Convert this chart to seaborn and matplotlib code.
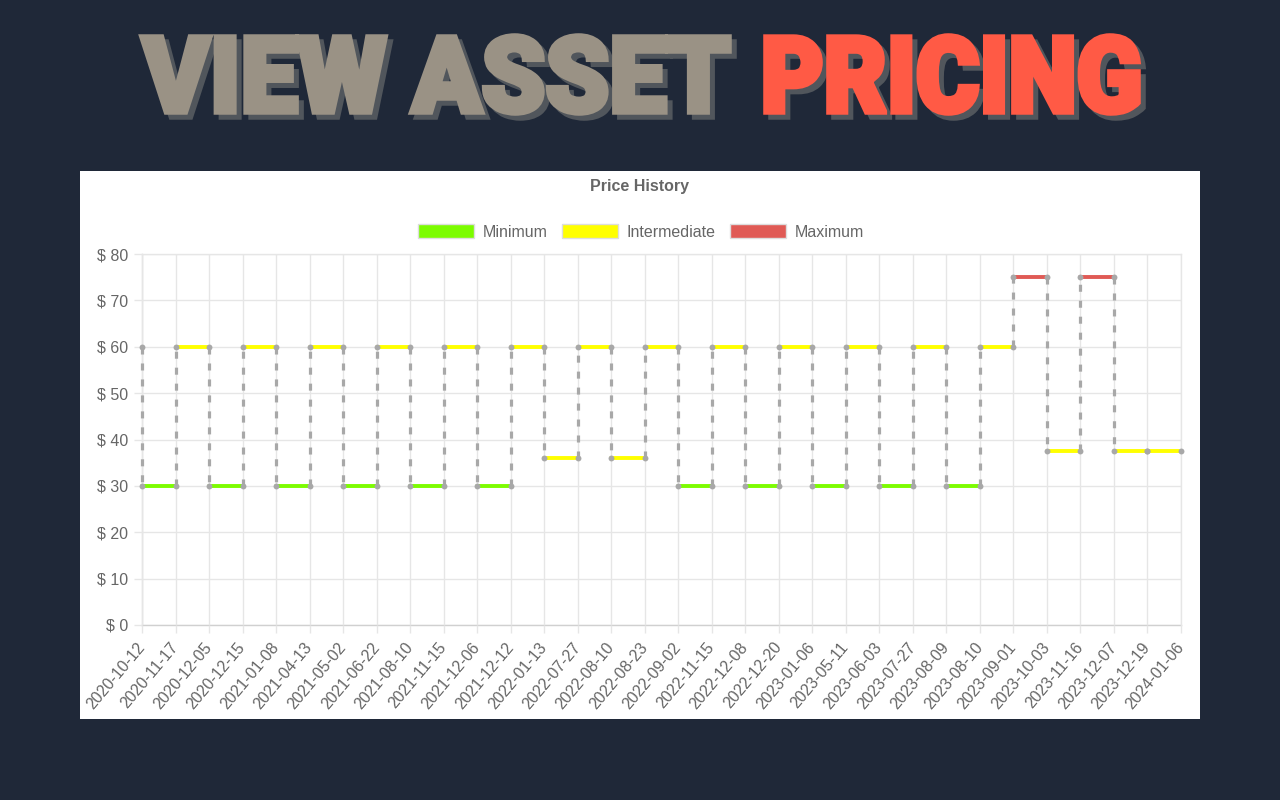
import matplotlib
matplotlib.use('Agg')
import matplotlib.pyplot as plt
import seaborn as sns
import pandas as pd
from matplotlib.textpath import TextPath
from matplotlib.patches import PathPatch, Patch, Rectangle
from matplotlib.font_manager import FontProperties
from matplotlib.transforms import Affine2D


dates = ['2020-10-12', '2020-11-17', '2020-12-05', '2020-12-15', '2021-01-08',
         '2021-04-13', '2021-05-02', '2021-06-22', '2021-08-10', '2021-11-15',
         '2021-12-06', '2021-12-12', '2022-01-13', '2022-07-27', '2022-08-10',
         '2022-08-23', '2022-09-02', '2022-11-15', '2022-12-08', '2022-12-20',
         '2023-01-06', '2023-05-11', '2023-06-03', '2023-07-27', '2023-08-09',
         '2023-08-10', '2023-09-01', '2023-10-03', '2023-11-16', '2023-12-07',
         '2023-12-19', '2024-01-06']

# price before the first date, then the price held from dates[i] until dates[i+1]
start_price = 60
prices = [30, 60, 30, 60, 30, 60, 30, 60, 30, 60, 30, 60, 36, 60, 36, 60,
          30, 60, 30, 60, 30, 60, 30, 60, 30, 60, 75, 37.5, 75, 37.5, 37.5]

tiers = ['Minimum', 'Intermediate', 'Maximum']
tier_colors = ['#7cfc00', '#ffff00', '#e05a55']

y_ticks = [0, 10, 20, 30, 40, 50, 60, 70, 80]


def tier_of(v):
    if v == min(prices):
        return tiers[0]
    if v == max(prices):
        return tiers[2]
    return tiers[1]


sns.set_theme(style='white')
plt.rcParams['font.family'] = ['Liberation Sans', 'DejaVu Sans']

BG = '#1f2838'
GRID = '#e6e6e6'
TXT = '#666666'

fig = plt.figure(figsize=(12.8, 8), dpi=100, facecolor=BG)

# background layer in pixel coords
bg = fig.add_axes([0, 0, 1, 1], zorder=0)
bg.set_xlim(0, 1280)
bg.set_ylim(800, 0)
bg.axis('off')
bg.add_patch(Rectangle((80, 171), 1120, 548, facecolor='white', edgecolor='none'))

title_font = FontProperties(family=['Roboto', 'DejaVu Sans'], weight='black')


def draw_word(text, x0, x1, top, bottom, color):
    tp = TextPath((0, 0), text, size=100, prop=title_font)
    ext = tp.get_extents()
    sx = (x1 - x0) / ext.width
    sy = (bottom - top) / ext.height
    for dx, col in ((5, '#51565c'), (0, color)):
        tr = (Affine2D().translate(-ext.x0, -ext.y0).scale(sx, -sy)
              .translate(x0 + dx, bottom + dx))
        bg.add_patch(PathPatch(tr.transform_path(tp), facecolor=col,
                               edgecolor=col, linewidth=4, joinstyle='miter'))


draw_word('VIEW ASSET', 142, 729, 36, 113, '#9a9285')
draw_word('PRICING', 766, 1138, 36, 113, '#ff5a45')

# chart
ax = fig.add_axes([142 / 1280, 1 - 625 / 800, (1181 - 142) / 1280, (625 - 254) / 800], zorder=1)
ax.set_facecolor('white')

h_rows = []
for i, p in enumerate(prices):
    for x in (i, i + 1):
        h_rows.append({'seg': i, 'x': x, 'price': p, 'tier': tier_of(p)})
h = pd.DataFrame(h_rows)

prev = [start_price] + prices[:-1]
v_rows = []
for i, (a, b) in enumerate(zip(prev, prices)):
    if a != b:
        v_rows.append({'seg': i, 'x': i, 'price': a})
        v_rows.append({'seg': i, 'x': i, 'price': b})
v = pd.DataFrame(v_rows)
pts = pd.concat([h[['x', 'price']], pd.DataFrame({'x': [0], 'price': [start_price]})])

sns.lineplot(data=v, x='x', y='price', units='seg', estimator=None, sort=False,
             color='#a8a8a8', linewidth=2.3, linestyle=(0, (2.2, 2.8)),
             ax=ax, legend=False, zorder=3, clip_on=False)
sns.lineplot(data=h, x='x', y='price', hue='tier', hue_order=tiers,
             palette=tier_colors, units='seg', estimator=None, sort=False,
             linewidth=2.8, ax=ax, legend=False, zorder=4, clip_on=False)
sns.scatterplot(data=pts, x='x', y='price', color='#a8a8a8', s=18,
                linewidth=0, ax=ax, zorder=5, clip_on=False)

ax.set_xlim(0, len(dates) - 1)
ax.set_ylim(0, 80)
ax.set_xticks(range(len(dates)))
ax.set_xticklabels(dates, rotation=50, ha='right', va='center',
                   rotation_mode='anchor', fontsize=11.5, color=TXT)
ax.set_yticks(y_ticks)
ax.set_yticklabels([f'$ {t}' for t in y_ticks], fontsize=11.5, color=TXT)
ax.tick_params(axis='both', length=6, color=GRID, width=1, pad=4,
               left=True, bottom=True)
ax.tick_params(axis='x', pad=8)
ax.grid(True, color=GRID, linewidth=1)
ax.set_axisbelow(True)
for s in ['top', 'right']:
    ax.spines[s].set_color(GRID)
for s in ['left', 'bottom']:
    ax.spines[s].set_color('#d0d0d0')
    ax.spines[s].set_zorder(0.5)
for s in ax.spines.values():
    s.set_linewidth(1)
ax.set_xlabel('')
ax.set_ylabel('')

fig.text(640 / 1280, 1 - 186 / 800, 'Price History', ha='center', va='center',
         fontsize=11.5, fontweight='bold', color=TXT)

handles = [Patch(facecolor=c, edgecolor='#dddddd', linewidth=1, label=t)
           for t, c in zip(tiers, tier_colors)]
fig.legend(handles=handles, loc='center', bbox_to_anchor=(641 / 1280, 1 - 232 / 800),
           ncol=3, frameon=False, fontsize=11.5, labelcolor=TXT,
           handlelength=3.5, handleheight=0.95, handletextpad=0.55,
           columnspacing=0.9)

fig.savefig('out.png', dpi=100, facecolor=BG)
